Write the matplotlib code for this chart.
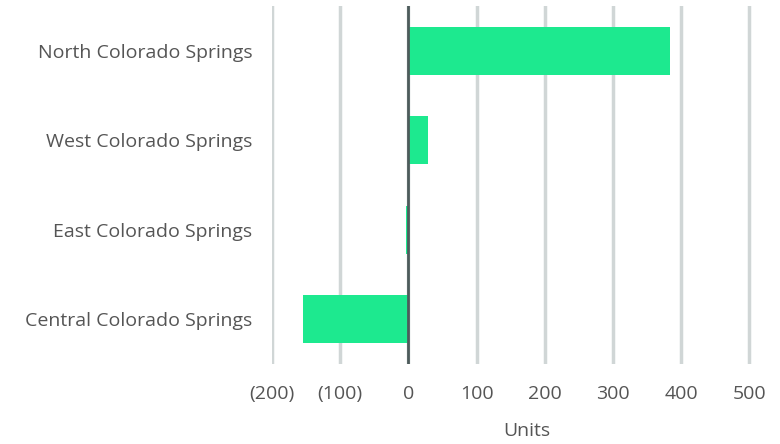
import matplotlib.pyplot as plt

regions = ["North Colorado Springs", "West Colorado Springs",
           "East Colorado Springs", "Central Colorado Springs"]
units = [383, 29, -4, -154]
ticks = [-200, -100, 0, 100, 200, 300, 400, 500]
tick_labels = ["(200)", "(100)", "0", "100", "200", "300", "400", "500"]

plt.rcParams["font.family"] = ["Open Sans", "DejaVu Sans"]

fig = plt.figure(figsize=(7.8, 4.44), dpi=100)
ax = fig.add_axes([272 / 780, 1 - 364 / 444, (782 - 272) / 780, 358 / 444])

pos = list(range(len(regions)))
ax.barh(pos, units, height=0.54, color="#1de98f", zorder=3)

ax.set_xlim(-200, 548)
ax.set_ylim(len(regions) - 0.5, -0.5)
ax.set_xticks(ticks)
ax.set_xticklabels(tick_labels)
ax.set_yticks(pos)
ax.set_yticklabels(regions)

ax.grid(axis="x", color="#d0d6d6", linewidth=2.5, zorder=0)
ax.axvline(0, color="#4d5b5b", linewidth=2, zorder=4)
for s in ax.spines.values():
    s.set_visible(False)
ax.tick_params(length=0, labelsize=14, colors="#555555")
ax.tick_params(axis="x", pad=15)
ax.tick_params(axis="y", pad=14)
ax.set_xlabel("Units", fontsize=14, color="#555555", labelpad=14)

plt.savefig("out.png", dpi=100)
